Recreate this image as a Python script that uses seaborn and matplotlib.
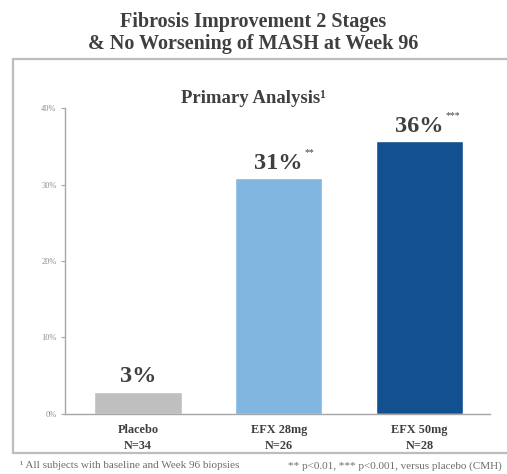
import pandas as pd
import matplotlib.pyplot as plt
from matplotlib.lines import Line2D
import seaborn as sns

# Data
groups = ['Placebo', 'EFX 28mg', 'EFX 50mg']
n_labels = ['N=34', 'N=26', 'N=28']
response = [2.9, 30.8, 35.7]
value_labels = ['3%', '31%', '36%']
stars = ['', '**', '***']
y_ticks = [0, 10, 20, 30, 40]

colors = ['#BFBFBF', '#80B6E0', '#13508F']
dark = '#3F3F3F'
axis_grey = '#A6A6A6'

df = pd.DataFrame({'group': groups, 'response': response})

sns.set_style('white')
plt.rcParams['font.family'] = ['Liberation Serif', 'DejaVu Serif']

fig = plt.figure(figsize=(5.07, 4.74), dpi=100)
ax = fig.add_axes([0.128, 0.127, 0.838, 0.645])

sns.barplot(data=df, x='group', y='response', hue='group', palette=colors,
            legend=False, width=0.62, saturation=1, ax=ax)

ax.set_xlim(-0.52, 2.5)
ax.set_ylim(0, 40)
ax.set_yticks(y_ticks)
ax.set_yticklabels([f'{t}%' for t in y_ticks], fontsize=6, color='#8C8C8C')
ax.set_xticks(range(len(groups)))
ax.set_xticklabels([f'{g}\n{n}' for g, n in zip(groups, n_labels)],
                   fontsize=8.8, fontweight='bold', color=dark, linespacing=1.45)
ax.set_xlabel('')
ax.set_ylabel('')
ax.tick_params(axis='y', length=3, width=0.8, color=axis_grey, pad=3, left=True)
ax.tick_params(axis='x', length=0, pad=7)

sns.despine(ax=ax, top=True, right=True)
for side in ['left', 'bottom']:
    ax.spines[side].set_color(axis_grey)
    ax.spines[side].set_linewidth(1.0)

# Value labels with significance stars
label_size = 17.5
for i, (v, lab, st) in enumerate(zip(response, value_labels, stars)):
    ax.annotate(lab, xy=(i, v), xytext=(0, 3), textcoords='offset points',
                ha='center', va='bottom', fontsize=label_size, fontweight='bold', color=dark)
    if st:
        # digits are ~0.5em wide, % is ~1em
        half = label_size * (0.5 * (len(lab) - 1) + 1.0) / 2
        ax.annotate(st, xy=(i, v), xytext=(half + 1, 15), textcoords='offset points',
                    ha='left', va='bottom', fontsize=7, color=dark)

# Titles
fig.text(0.5, 0.953, 'Fibrosis Improvement 2 Stages', ha='center', va='center',
         fontsize=14.5, fontweight='bold', color=dark)
fig.text(0.5, 0.907, '& No Worsening of MASH at Week 96', ha='center', va='center',
         fontsize=14.5, fontweight='bold', color=dark)
fig.text(0.5, 0.793, 'Primary Analysis\u00b9', ha='center', va='center',
         fontsize=13.5, fontweight='bold', color=dark)

# Frame around the chart panel
frame_kw = dict(color='#BDBDBD', linewidth=1.6, transform=fig.transFigure)
fig.add_artist(Line2D([0.026, 1.0], [0.8755, 0.8755], **frame_kw))
fig.add_artist(Line2D([0.026, 0.026], [0.0443, 0.8755], **frame_kw))
fig.add_artist(Line2D([0.026, 1.0], [0.0443, 0.0443], **frame_kw))

# Footnotes
fig.text(0.04, 0.017, '\u00b9 All subjects with baseline and Week 96 biopsies',
         ha='left', va='center', fontsize=8.0, color='#6E6E6E')
fig.text(0.568, 0.017, '** p<0.01, *** p<0.001, versus placebo (CMH)',
         ha='left', va='center', fontsize=8.0, color='#6E6E6E')

fig.savefig('out.png', dpi=100)
